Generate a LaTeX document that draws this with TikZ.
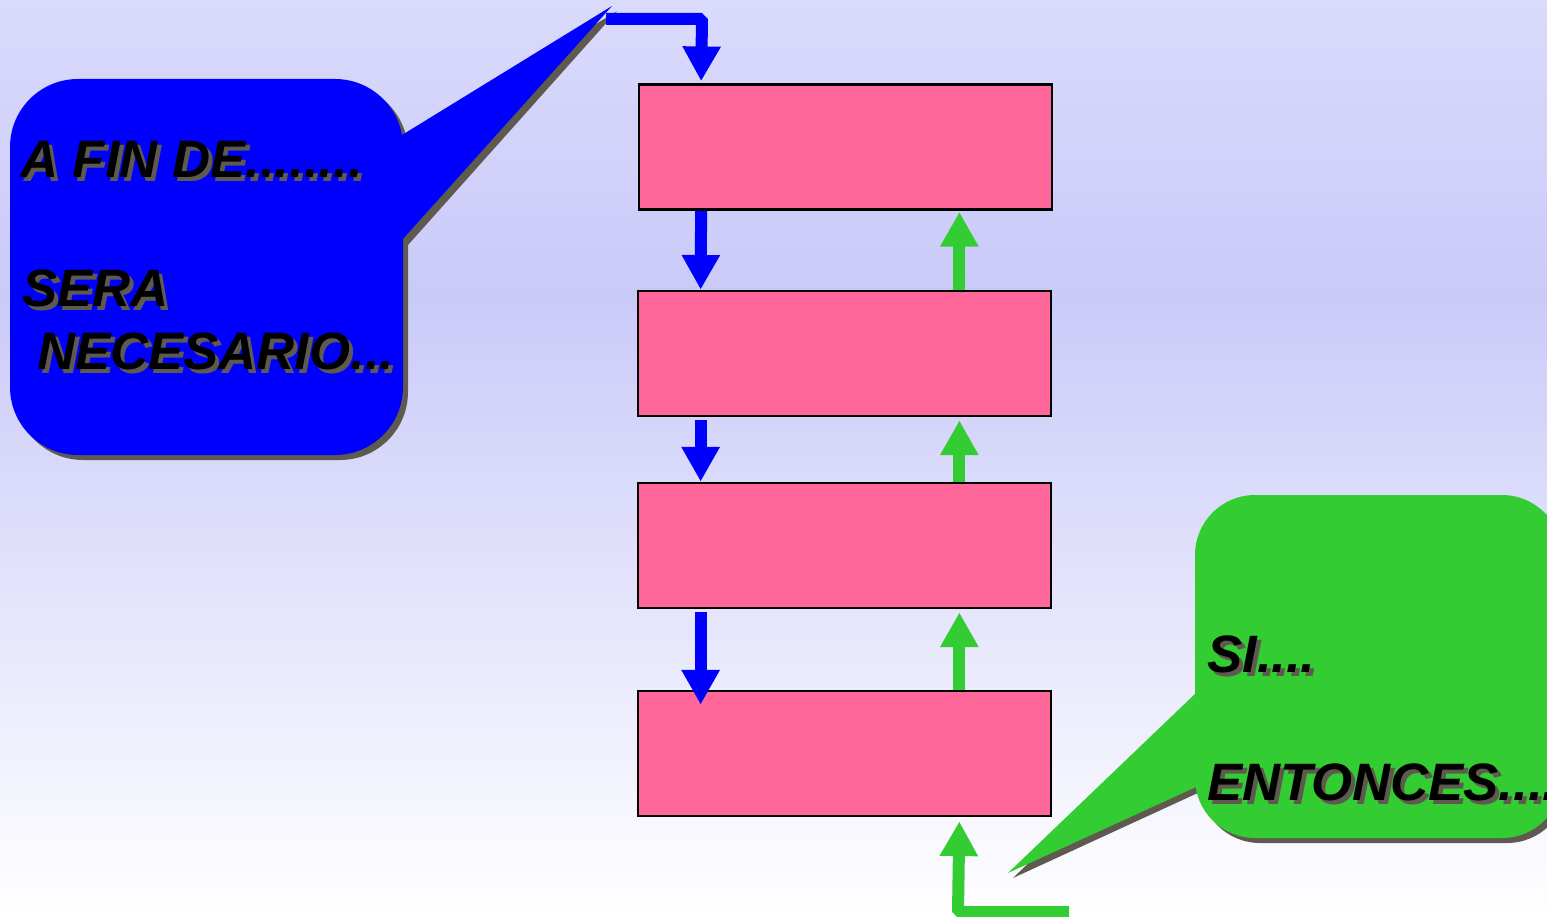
\documentclass[tikz,border=0pt]{standalone}
\usepackage{fontspec}
\setmainfont{Liberation Sans}
\usetikzlibrary{arrows.meta,calc}

\definecolor{boxpink}{RGB}{255,102,153}
\definecolor{callblue}{RGB}{0,0,255}
\definecolor{callgreen}{RGB}{51,204,51}
\definecolor{shadegray}{RGB}{95,90,80}
\definecolor{bgtop}{RGB}{218,218,251}
\definecolor{bgmid}{RGB}{202,202,249}
\pgfdeclareverticalshading{bgfade}{100bp}{color(0bp)=(white); color(25bp)=(white);
  color(59bp)=(bgmid); color(75bp)=(bgtop); color(100bp)=(bgtop)}

\tikzset{
  stagebox/.style={draw=black, line width=1.8pt, fill=boxpink, inner sep=0pt,
    minimum width=310pt, minimum height=94pt},
  down arrow/.style={draw=callblue, line width=9pt, line join=bevel,
    -{Triangle[width=27pt,length=26pt]}},
  up arrow/.style={draw=callgreen, line width=9pt, line join=bevel,
    -{Triangle[width=27pt,length=26pt]}},
  say/.style={anchor=base west, inner sep=0pt,
    font=\fontsize{39.5}{48}\selectfont\bfseries\itshape},
  say shadow/.style={say, text=shadegray},
}

\begin{document}
\begin{tikzpicture}[x=0.75pt,y=0.75pt,yscale=-1,xscale=1]
\useasboundingbox (0,0) rectangle (1547,917);
\clip (0,0) rectangle (1547,917);

%Shape: Background
\shade[shading=bgfade] (0,0) rectangle (1547,917);

%Shape: Rectangle
\node[stagebox] (b1) at (845.5,147) {};
%Shape: Rectangle
\node[stagebox] (b2) at (844.5,353.5) {};
%Shape: Rectangle
\node[stagebox] (b3) at (844.5,545.5) {};
%Shape: Rectangle
\node[stagebox] (b4) at (844.5,753.5) {};

%Shape: Callout (blue)
\fill[shadegray, rounded corners=51pt] (15,84) rectangle (408,460);
\fill[shadegray] (408,140) -- (617,11) -- (408,245) -- cycle;
\fill[callblue, rounded corners=51pt] (10,79) rectangle (403,455);
\fill[callblue] (402,135) -- (612,6) -- (402,240) -- cycle;

%Shape: Callout (green)
\fill[shadegray, rounded corners=45pt] (1200,500) rectangle (1567,843);
\fill[shadegray] (1200,698) -- (1013,878) -- (1200,792) -- cycle;
\fill[callgreen, rounded corners=45pt] (1195,495) rectangle (1562,838);
\fill[callgreen] (1196,693) -- (1008,873) -- (1196,787) -- cycle;

%Straight Lines (down)
\coordinate (bluein) at (606,19);
\draw[down arrow] (bluein) -- (702,19) -- ($(b1.north west)+(63.5,-2)$);
\draw[down arrow] ($(b1.south west)+(63.5,0)$) -- ($(b2.north west)+(64,0)$);
\draw[down arrow] ($(b2.south west)+(64,3)$) -- ($(b3.north west)+(64,0)$);
\draw[down arrow] ($(b3.south west)+(64,3)$) -- ($(b4.north west)+(64,15)$);

%Straight Lines (up)
\coordinate (greenin) at (1069,912);
\draw[up arrow] (greenin) -- (958,912) -- ($(b4.south east)+(-93,4)$);
\draw[up arrow] ($(b4.north east)+(-93,0)$) -- ($(b3.south east)+(-93,3)$);
\draw[up arrow] ($(b3.north east)+(-93,0)$) -- ($(b2.south east)+(-93,3)$);
\draw[up arrow] ($(b2.north east)+(-93,0)$) -- ($(b1.south east)+(-94,1)$);

% Text Node
\node[say shadow] (finS) at (24,181) {A FIN DE........};
\node[say] (fin) at (20,177) {A FIN DE........};
% Text Node
\node[say shadow] (seraS) at (26,310) {SERA};
\node[say] (sera) at (22,306) {SERA};
% Text Node
\node[say shadow] (necS) at (41,373) {NECESARIO...};
\node[say] (nec) at (37,369) {NECESARIO...};
% Text Node
\node[say shadow] (siS) at (1211,676) {SI....};
\node[say] (si) at (1207,672) {SI....};
% Text Node
\node[say shadow] (entS) at (1211,804) {ENTONCES....};
\node[say] (ent) at (1207,800) {ENTONCES....};

\end{tikzpicture}
\end{document}
